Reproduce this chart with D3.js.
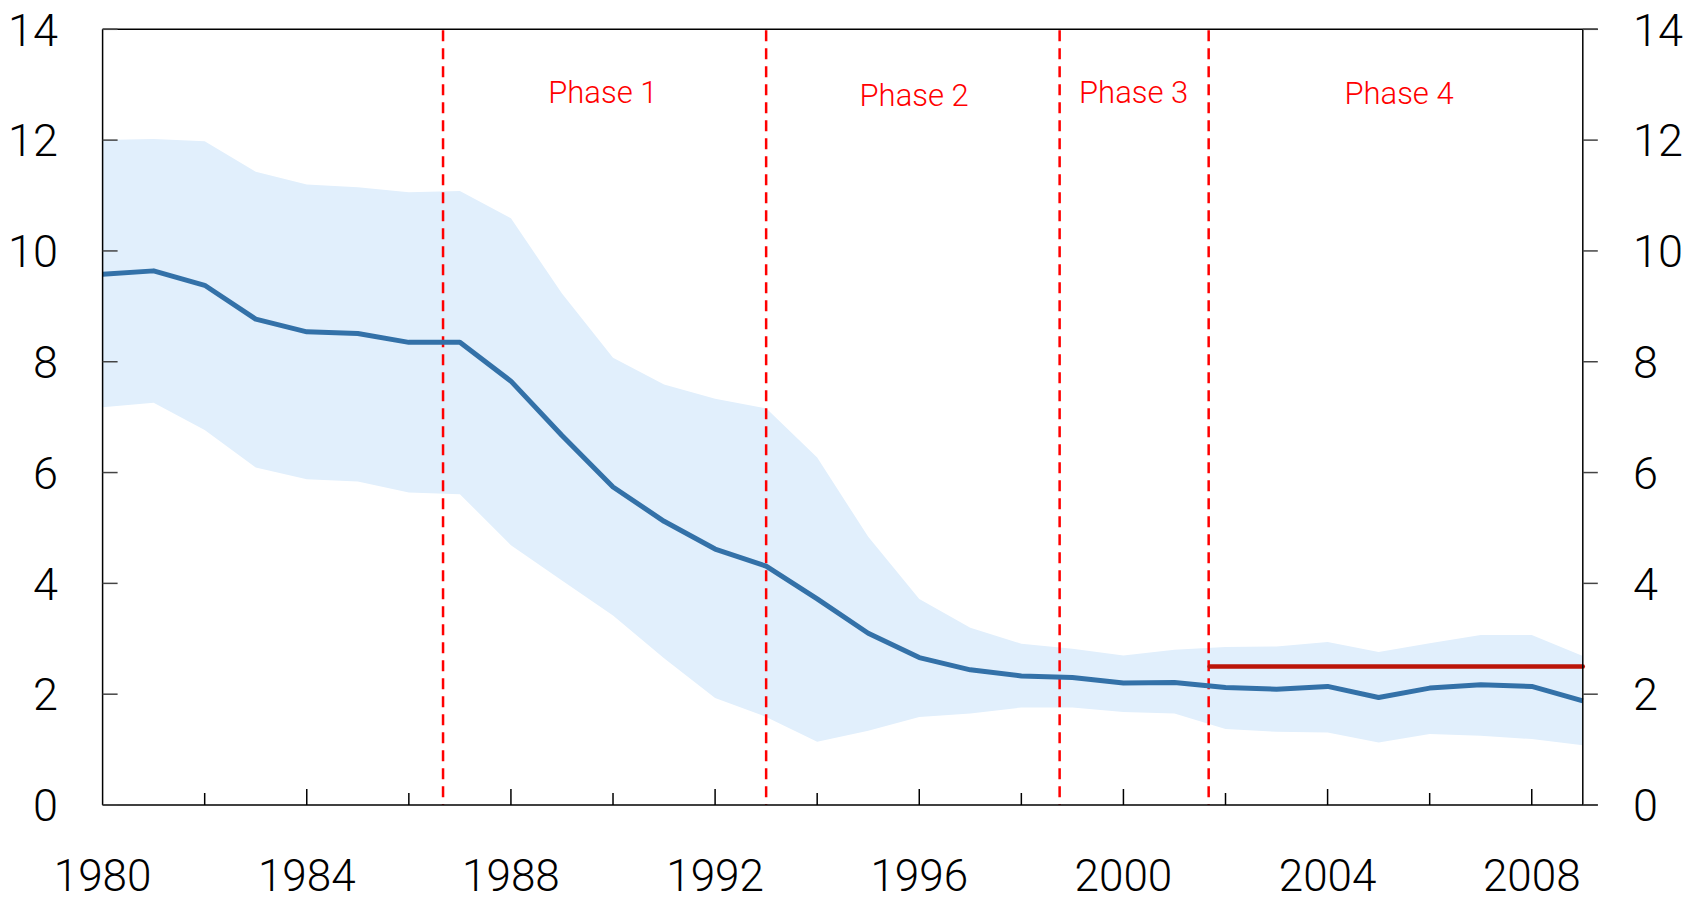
<!DOCTYPE html>
<html>
<head>
<meta charset="utf-8">
<script src="https://cdn.jsdelivr.net/npm/d3@7"></script>
<style>
  html, body { margin: 0; padding: 0; background: #ffffff; }
  svg { display: block; }
  text { font-family: Roboto, "Liberation Sans", Arial, sans-serif; font-weight: 300; }
</style>
</head>
<body>
<svg id="chart" width="1694" height="903"></svg>
<script>
// ---- data ----
const years = [1980,1981,1982,1983,1984,1985,1986,1987,1988,1989,1990,1991,1992,1993,1994,
               1995,1996,1997,1998,1999,2000,2001,2002,2003,2004,2005,2006,2007,2008,2009];
const median = [9.58,9.64,9.38,8.77,8.54,8.51,8.35,8.35,7.65,6.67,5.74,5.12,4.62,4.31,3.72,
                3.10,2.66,2.44,2.33,2.30,2.20,2.21,2.12,2.09,2.14,1.94,2.11,2.17,2.14,1.88];
const upper  = [12.00,12.02,11.98,11.43,11.20,11.15,11.06,11.08,10.59,9.23,8.07,7.59,7.33,7.16,6.27,
                4.84,3.72,3.20,2.91,2.82,2.70,2.80,2.85,2.86,2.94,2.76,2.92,3.07,3.07,2.69];
const lower  = [7.18,7.26,6.77,6.09,5.88,5.84,5.64,5.61,4.69,4.05,3.42,2.65,1.93,1.59,1.14,
                1.34,1.59,1.65,1.76,1.76,1.68,1.65,1.37,1.32,1.31,1.13,1.28,1.25,1.19,1.08];
const phaseBreaks = [1986.67, 1993.0, 1998.75, 2001.67];
const phaseNames  = ["Phase 1", "Phase 2", "Phase 3", "Phase 4"];
const phaseLabelYears  = [1989.8, 1995.9, 2000.2, 2005.4];
const phaseLabelValues = [12.67, 12.61, 12.67, 12.65];
const targetValue = 2.5;
const targetStart = 2001.67;
const targetEnd = 2009;
const yTicks = [0,2,4,6,8,10,12,14];
const xLabelYears = [1980,1984,1988,1992,1996,2000,2004,2008];
const xTickYears = [1982,1984,1986,1988,1990,1992,1994,1996,1998,2000,2002,2004,2006,2008];

// ---- layout ----
const svg = d3.select("#chart");
const L = 102.6, R = 1582.8, T = 29.3, B = 805;
const x = d3.scaleLinear().domain([1980, 2009]).range([L, R]);
const y = d3.scaleLinear().domain([0, 14]).range([B, T]);

const rows = years.map((yr, i) => ({yr, m: median[i], u: upper[i], l: lower[i]}));

// band
svg.append("path")
  .datum(rows)
  .attr("fill", "#e1effc")
  .attr("d", d3.area().x(d => x(d.yr)).y0(d => y(d.l)).y1(d => y(d.u)));

// dashed phase lines
svg.selectAll(".phase")
  .data(phaseBreaks).enter().append("line")
  .attr("x1", d => x(d)).attr("x2", d => x(d))
  .attr("y1", T + 1).attr("y2", B)
  .attr("stroke", "#ff0000").attr("stroke-width", 2.5)
  .attr("stroke-dasharray", "11,7");

// median line
svg.append("path")
  .datum(rows)
  .attr("fill", "none")
  .attr("stroke", "#3371a8")
  .attr("stroke-width", 5)
  .attr("stroke-linejoin", "round")
  .attr("d", d3.line().x(d => x(d.yr)).y(d => y(d.m)));

// target line
svg.append("line")
  .attr("x1", x(targetStart) + 1).attr("x2", x(targetEnd))
  .attr("y1", y(targetValue)).attr("y2", y(targetValue))
  .attr("stroke", "#bb1509").attr("stroke-width", 4.5).attr("stroke-linecap", "round");

// phase labels
svg.selectAll(".plabel")
  .data(phaseNames).enter().append("text")
  .attr("x", (d, i) => x(phaseLabelYears[i]))
  .attr("y", (d, i) => y(phaseLabelValues[i]))
  .attr("text-anchor", "middle")
  .attr("font-size", 31)
  .attr("fill", "#ff0000")
  .text(d => d);

// frame
const frame = svg.append("g").attr("stroke", "#000").attr("stroke-width", 1.5).attr("fill", "none");
frame.append("line").attr("x1", L).attr("x2", R + 15).attr("y1", T).attr("y2", T);
frame.append("line").attr("x1", L).attr("x2", R + 15).attr("y1", B).attr("y2", B);
frame.append("line").attr("x1", L).attr("x2", L).attr("y1", T).attr("y2", B);
frame.append("line").attr("x1", R).attr("x2", R).attr("y1", T).attr("y2", B);

// y ticks (left inward, right outward)
const yt = svg.append("g").attr("stroke", "#444").attr("stroke-width", 1.5);
yt.selectAll(".lt").data(yTicks).enter().append("line")
  .attr("x1", L).attr("x2", L + 15).attr("y1", d => y(d)).attr("y2", d => y(d));
yt.selectAll(".rt").data(yTicks).enter().append("line")
  .attr("x1", R).attr("x2", R + 15).attr("y1", d => y(d)).attr("y2", d => y(d));

svg.selectAll(".yl").data(yTicks).enter().append("text")
  .attr("x", 58).attr("y", d => y(d)).attr("dy", "0.36em")
  .attr("text-anchor", "end").attr("font-size", 45).attr("fill", "#000")
  .text(d => d);
svg.selectAll(".yr").data(yTicks).enter().append("text")
  .attr("x", 1633).attr("y", d => y(d)).attr("dy", "0.36em")
  .attr("text-anchor", "start").attr("font-size", 45).attr("fill", "#000")
  .text(d => d);

// x ticks (inward)
svg.append("g").attr("stroke", "#000").attr("stroke-width", 1.5)
  .selectAll("line").data(xTickYears).enter().append("line")
  .attr("x1", d => x(d)).attr("x2", d => x(d))
  .attr("y1", B).attr("y2", d => B - ((d % 4 === 0) ? 16 : 12));

svg.selectAll(".xl").data(xLabelYears).enter().append("text")
  .attr("x", d => x(d)).attr("y", 891)
  .attr("text-anchor", "middle").attr("font-size", 44).attr("fill", "#000")
  .text(d => d);
</script>
</body>
</html>
